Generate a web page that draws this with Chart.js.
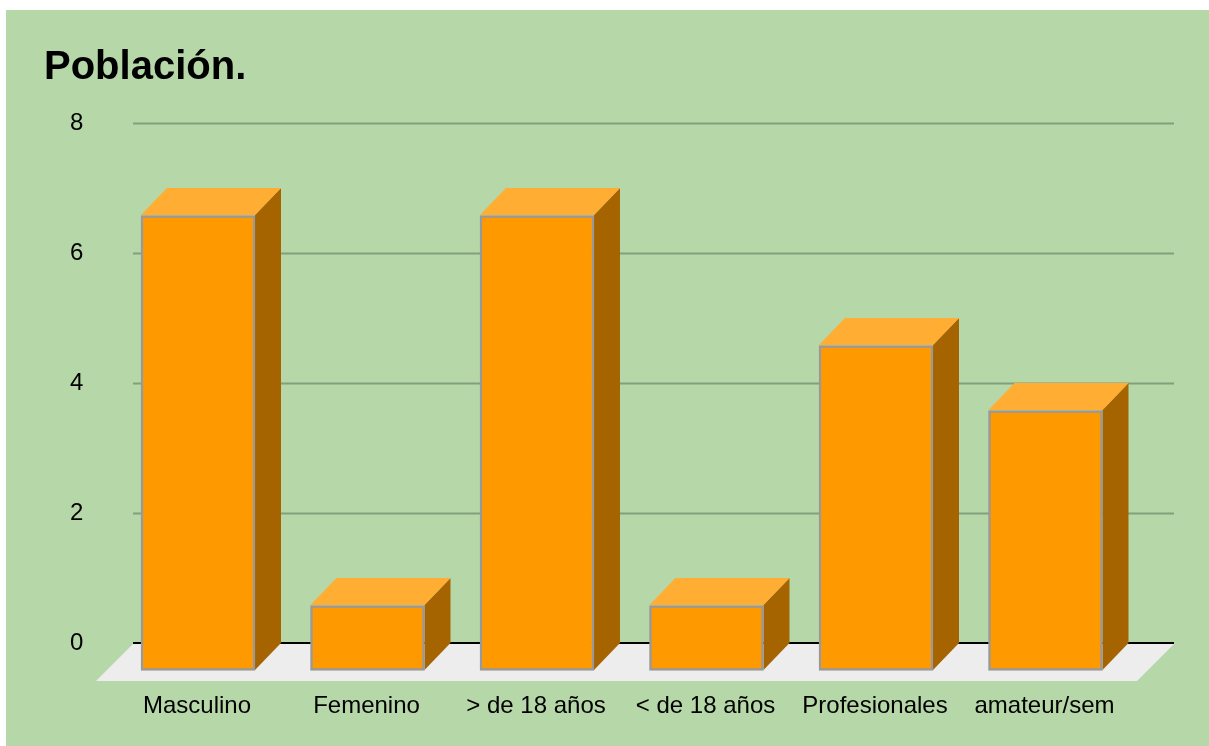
<!DOCTYPE html>
<html><head><meta charset="utf-8">
<style>html,body{margin:0;padding:0;background:#fff}canvas{display:block}</style>
<script src="https://cdn.jsdelivr.net/npm/chart.js@4"></script>
</head><body><canvas id="c" width="1209" height="746"></canvas>
<script>
const categories = ["Masculino","Femenino","> de 18 años","< de 18 años","Profesionales","amateur/sem"];
const poblacion = [7,1,7,1,5,4];
const yTicks = [0,2,4,6,8];

const FONT = '"Liberation Sans", Arial, sans-serif';
const DX = 26, DY = 27;
const GRID_L = 133, GRID_R = 1174;

function poly(ctx, pts, fill){
  ctx.beginPath();
  pts.forEach((p,i)=> i?ctx.lineTo(p[0],p[1]):ctx.moveTo(p[0],p[1]));
  ctx.closePath();
  ctx.fillStyle = fill;
  ctx.fill();
}

const threeD = {
  id:'threeD',
  beforeDraw(chart){
    const c = chart.ctx;
    c.save();
    c.fillStyle = '#fff'; c.fillRect(0,0,chart.width,chart.height);
    c.fillStyle = '#b6d7a8'; c.fillRect(6,10,chart.width-6,chart.height-10);
    c.restore();
  },
  beforeDatasetsDraw(chart){
    const c = chart.ctx, y = chart.scales.y, zero = y.getPixelForValue(0);
    c.save();
    // grid lines on the back wall
    y.ticks.forEach(t=>{
      if(t.value===0) return;
      const p = Math.round(y.getPixelForValue(t.value));
      c.fillStyle = '#83a07c';
      c.fillRect(GRID_L,p-0.5,GRID_R-GRID_L,2);
    });
    // floor
    poly(c,[[GRID_L,zero+1],[GRID_R,zero+1],[GRID_R-37,zero+38],[GRID_L-37,zero+38]],'#ededed');
    // zero line
    c.fillStyle = '#000';
    c.fillRect(GRID_L,Math.round(zero)-1,GRID_R-GRID_L,2);
    // side and top faces of each bar
    chart.getDatasetMeta(0).data.forEach(b=>{
      const l = b.x-DX-b.width/2, r = b.x-DX+b.width/2;
      const top = b.y+DY, bot = b.base+DY;
      poly(c,[[r,top],[r+DX,top-DY],[r+DX,bot-DY],[r,bot]],'#a66400');
      poly(c,[[l,top],[l+DX,top-DY],[r+DX,top-DY],[r,top]],'#ffad33');
    });
    // bars' front faces are drawn by the library, shifted to the front plane
    c.restore();
    c.save();
    c.translate(-DX,DY+0.5);
  },
  afterDatasetsDraw(chart){ chart.ctx.restore(); }
};

new Chart(document.getElementById('c'),{
  type:'bar',
  data:{labels:categories,datasets:[{
    label:'Población.',
    data:poblacion,
    backgroundColor:'#ff9900',
    borderColor:'#999999',
    borderWidth:2.5,
    borderSkipped:false,
    barThickness:114,
    clip:false
  }]},
  plugins:[threeD],
  options:{
    responsive:false,
    animation:false,
    layout:{padding:{left:44,right:52.75,top:0,bottom:0}},
    plugins:{
      legend:{display:false},
      tooltip:{enabled:false},
      title:{display:true,text:'Población.',align:'start',color:'#000',
        font:{family:FONT,size:40,weight:'bold',lineHeight:1.2},
        padding:{top:44,bottom:31}}
    },
    scales:{
      x:{
        grid:{display:false},border:{display:false},
        afterFit(s){s.height=103;},
        ticks:{color:'#000',font:{family:FONT,size:24},padding:41,labelOffset:-27,maxRotation:0,autoSkip:false}
      },
      y:{
        min:0,max:8,
        afterFit(s){s.width=95.25;},
        afterBuildTicks(s){s.ticks=yTicks.map(v=>({value:v}));},
        grid:{display:false},border:{display:false},
        ticks:{color:'#000',font:{family:FONT,size:24},padding:48}
      }
    }
  }
});
</script></body></html>
